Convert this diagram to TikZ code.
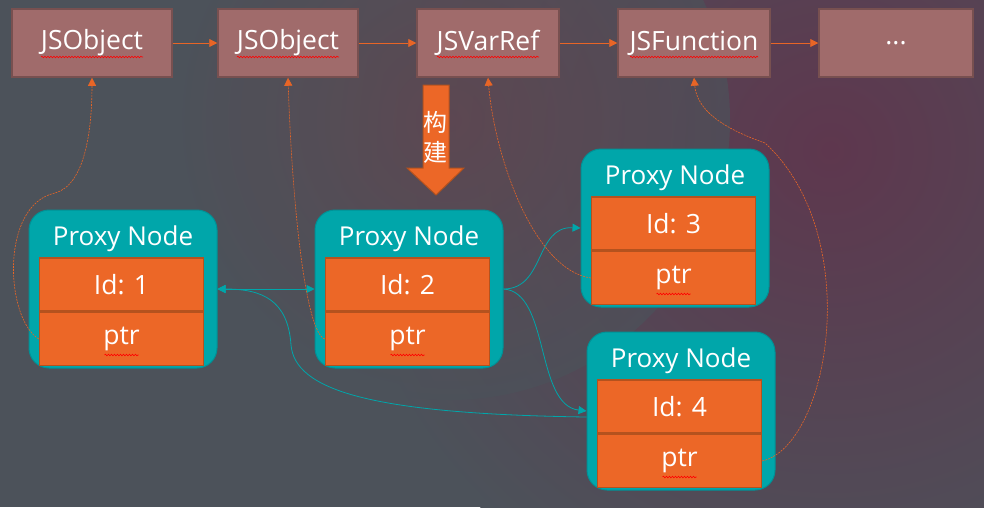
\documentclass[tikz,border=0pt]{standalone}
\usepackage{fontspec}
\setmainfont{Open Sans}
\newfontfamily\cjk{Noto Sans CJK SC}
\usetikzlibrary{arrows.meta,positioning,decorations.pathmorphing}
\definecolor{bgbase}{RGB}{76,82,90}
\definecolor{bgpurple}{RGB}{94,55,78}
\definecolor{bgred}{RGB}{98,70,80}
\definecolor{objfill}{RGB}{160,107,107}
\definecolor{objline}{RGB}{120,80,80}
\definecolor{linkorange}{RGB}{232,101,38}
\definecolor{tealfill}{RGB}{0,166,170}
\definecolor{tealline}{RGB}{0,145,150}
\definecolor{slotfill}{RGB}{236,103,39}
\definecolor{slotline}{RGB}{180,82,30}
\tikzset{
    objbox/.style={draw=objline, line width=1.5pt, fill=objfill, minimum height=68pt, text=white, font=\fontsize{26.5}{30}\selectfont},
    proxy/.style={draw=tealline, line width=1pt, fill=tealfill, rounded corners=20pt, minimum width=188pt, minimum height=158pt},
    slot/.style={draw=slotline, line width=1.5pt, fill=slotfill, minimum width=164pt, minimum height=53pt, text=white, font=\fontsize{26.5}{30}\selectfont},
    ptitle/.style={text=white, font=\fontsize{26}{30}\selectfont},
    % connectors
    nextlink/.style={-{Triangle[length=8pt,width=8pt]}, draw=linkorange, line width=0.8pt},
    backref/.style={-{Triangle[length=8pt,width=8pt]}, draw=linkorange, line width=0.6pt, dash pattern=on 2pt off 1pt},
    idref/.style={-{Triangle[length=8pt,width=8pt]}, draw=tealfill, line width=0.8pt},
    spell/.style={draw=red, line width=0.6pt, decorate, decoration={snake, amplitude=0.8pt, segment length=3pt}}
}
\begin{document}
\begin{tikzpicture}[x=1pt, y=-1pt]
% background
\useasboundingbox (0,0) rectangle (984,507);
\begin{scope}
\clip (0,0) rectangle (984,507);
\fill[bgbase] (0,0) rectangle (984,507);
\shade[inner color=bgpurple, outer color=bgbase] (830,150) circle (500);
\shade[inner color=bgred, outer color=bgbase, opacity=0.7] (450,120) circle (280);
\end{scope}

% object chain
\node[objbox, minimum width=160pt] (obj1) at (92,43) {JSObject};
\node[objbox, minimum width=140pt] (obj2) at (288,43) {JSObject};
\node[objbox, minimum width=142pt] (obj3) at (488,43) {JSVarRef};
\node[objbox, minimum width=152pt] (obj4) at (694,43) {JSFunction};
\node[objbox, minimum width=154pt] (obj5) at (896,43) {...};
\draw[nextlink] (obj1) -- (obj2);
\draw[nextlink] (obj2) -- (obj3);
\draw[nextlink] (obj3) -- (obj4);
\draw[nextlink] (obj4) -- (obj5);

% build arrow
\draw[fill=slotfill, draw=slotline, line width=1pt] (423,85) -- (449,85) -- (449,168) -- (464,168) -- (436,195) -- (407,168) -- (423,168) -- cycle;
\node[text=white, font=\cjk\fontsize{24}{30}\selectfont, align=center] (build) at (435,137) {构\\建};

% proxy nodes
\foreach \n/\x/\y in {1/123/289, 2/409/289, 3/675/228, 4/681/411} {
  \node[proxy] (p\n) at (\x,\y) {};
  \node[slot] (id\n) at ([xshift=-1.5pt,yshift=4.5pt]p\n.center) {Id: \n};
  \node[slot, below=0pt of id\n] (ptr\n) {ptr};
  \node[ptitle] (t\n) at ([yshift=50pt]p\n.center) {Proxy Node};
}

% id links
\draw[idref, {Triangle[length=8pt,width=8pt]}-{Triangle[length=8pt,width=8pt]}] (p1.east) -- (p2.west);
\draw[idref] (p2.east) .. controls (545,289) and (535,226) .. (p3.west);
\draw[idref] (p2.east) .. controls (550,292) and (535,405) .. (p4.west);
\draw[idref] ([yshift=-6pt]p4.west) .. controls (370,414) and (295,390) .. (291,345) .. controls (288,300) and (262,289) .. (p1.east);

% back pointers
\draw[backref] (ptr1.west) .. controls (5,318) and (0,205) .. (55,193) .. controls (85,185) and (92,130) .. (obj1.south);
\draw[backref] (ptr2.west) .. controls (305,332) and (292,200) .. (obj2.south);
\draw[backref] (ptr3.west) .. controls (535,270) and (495,160) .. (obj3.south);
\draw[backref] (ptr4.east) .. controls (830,445) and (865,235) .. (765,143) .. controls (722,128) and (697,110) .. (obj4.south);

% spell marks
\foreach \nm/\w in {obj1/51, obj2/51, obj3/51, obj4/64}
  \draw[spell] ([xshift=-\w pt,yshift=-14pt]\nm.center) -- ([xshift=\w pt,yshift=-14pt]\nm.center);
\foreach \n in {1,...,4}
  \draw[spell] ([xshift=-17pt,yshift=-16pt]ptr\n.center) -- ([xshift=17pt,yshift=-16pt]ptr\n.center);
\end{tikzpicture}
\end{document}
